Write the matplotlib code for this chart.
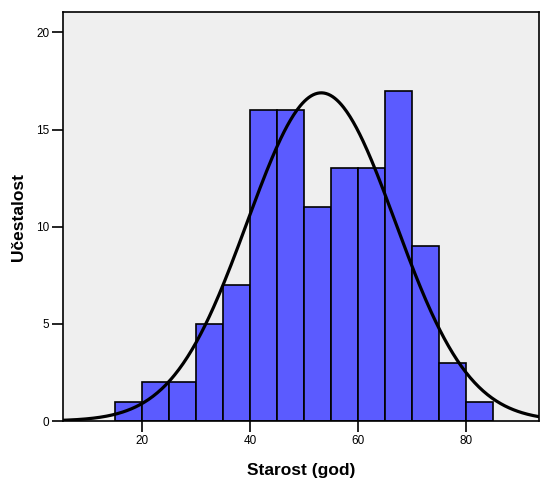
import matplotlib
matplotlib.use("Agg")
import matplotlib.pyplot as plt
import numpy as np

# histogram of age, bins of 5 years
bin_edges = [15, 20, 25, 30, 35, 40, 45, 50, 55, 60, 65, 70, 75, 80, 85]
counts = [1, 2, 2, 5, 7, 16, 16, 11, 13, 13, 17, 9, 3, 1]
# normal curve parameters
mean_age = 53.2
sd_age = 13.7
n_total = sum(counts)

plt.rcParams['font.family'] = ['Liberation Sans', 'DejaVu Sans']

fig = plt.figure(figsize=(5.4, 4.78), dpi=100)
ax = fig.add_axes([0.1167, 0.1192, 0.8815, 0.8557])
ax.set_facecolor("#efefef")

widths = np.diff(bin_edges)
ax.bar(bin_edges[:-1], counts, width=widths, align="edge",
       color="#5b5bff", edgecolor="black", linewidth=1.2, zorder=2)

x = np.linspace(0, 100, 500)
y = n_total * 5 / (sd_age * np.sqrt(2 * np.pi)) * np.exp(-0.5 * ((x - mean_age) / sd_age) ** 2)
ax.plot(x, y, color="black", linewidth=2.3, zorder=3)

ax.set_xlim(5.4, 93.5)
ax.set_ylim(0, 21.05)
ax.set_xticks([20, 40, 60, 80])
ax.set_yticks([0, 5, 10, 15, 20])
ax.tick_params(direction="out", length=8, width=1.2, labelsize=8.5, pad=2)
for s in ax.spines.values():
    s.set_linewidth(1.2)

ax.set_xlabel("Starost (god)", fontsize=12.5, fontweight="bold", labelpad=11.5)
ax.set_ylabel("Učestalost", fontsize=12.5, fontweight="bold", labelpad=7)

fig.savefig("out.png", dpi=100)
